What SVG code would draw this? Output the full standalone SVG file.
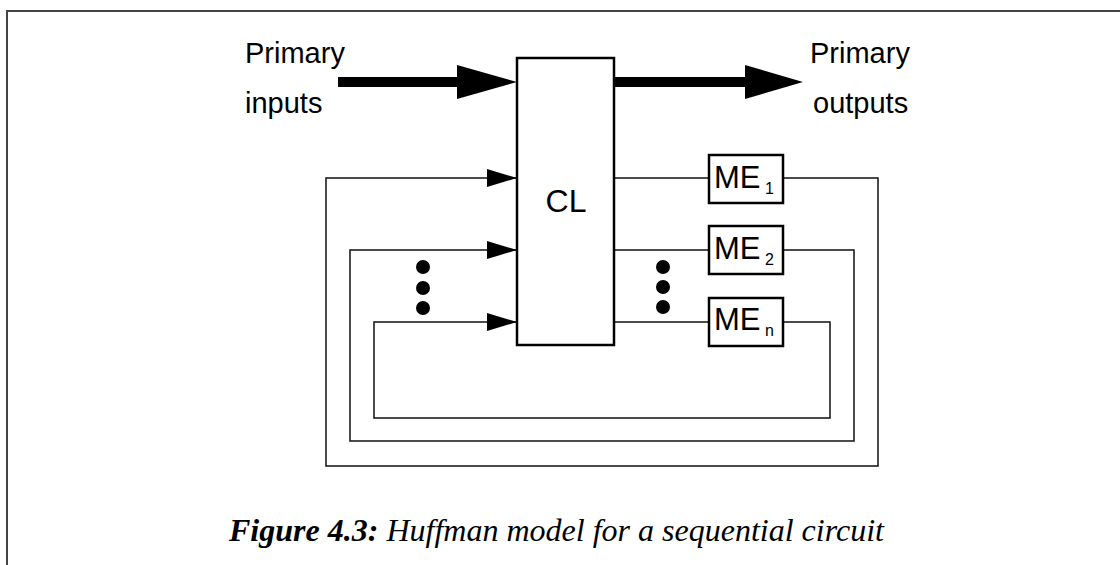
<svg xmlns="http://www.w3.org/2000/svg" width="1120" height="565" viewBox="0 0 1120 565">
<style>
.lbl{font-family:"Liberation Sans",Arial,sans-serif;fill:#000}
.big{font-size:29px}
.box{fill:#fff;stroke:#000;stroke-width:2.5}
.wire{fill:none;stroke:#111;stroke-width:1.5}
.thick{stroke:#000;stroke-width:10}
.cap{font-family:"Liberation Serif","Times New Roman",serif;font-style:italic;font-size:32px;fill:#000}
</style>
<defs>
<marker id="ah" markerUnits="userSpaceOnUse" markerWidth="30" markerHeight="18" refX="30" refY="9" orient="auto">
<path d="M0,0 L30,9 L0,18 Z" fill="#000"/>
</marker>
</defs>
<rect width="1120" height="565" fill="#fff"/>
<path d="M7,565 V11 H1120" fill="none" stroke="#444" stroke-width="2"/>

<g id="connectors">
<line class="thick" x1="338" y1="82" x2="460" y2="82"/>
<polygon points="457,65 517,82 457,99" fill="#000"/>
<line class="thick" x1="614" y1="82" x2="748" y2="82"/>
<polygon points="745,65 803,82 745,99" fill="#000"/>
<line class="wire" x1="614" y1="178" x2="709" y2="178"/>
<line class="wire" x1="614" y1="250" x2="709" y2="250"/>
<line class="wire" x1="614" y1="322" x2="709" y2="322"/>
<path class="wire" d="M783,178 H878 V466 H326 V178 H517" marker-end="url(#ah)"/>
<path class="wire" d="M783,250 H854 V441 H350 V250 H517" marker-end="url(#ah)"/>
<path class="wire" d="M783,322 H830 V418 H374 V322 H517" marker-end="url(#ah)"/>
</g>

<g id="dots-left">
<circle cx="423" cy="267" r="7"/>
<circle cx="423" cy="288" r="7"/>
<circle cx="423" cy="308" r="7"/>
</g>
<g id="dots-right">
<circle cx="663" cy="267" r="7"/>
<circle cx="663" cy="287" r="7"/>
<circle cx="663" cy="307" r="7"/>
</g>

<g id="primary-inputs">
<text class="lbl big" x="245" y="63">Primary</text>
<text class="lbl big" x="245" y="113">inputs</text>
</g>
<g id="primary-outputs">
<text class="lbl big" x="810" y="63">Primary</text>
<text class="lbl big" x="813" y="113">outputs</text>
</g>

<g id="CL">
<rect class="box" x="517" y="58" width="97" height="287"/>
<text class="lbl" x="566" y="212" font-size="32" text-anchor="middle">CL</text>
</g>
<g id="ME1">
<rect class="box" x="709" y="155" width="74" height="48"/>
<text class="lbl" x="714" y="188" font-size="31">ME<tspan font-size="16" x="765" y="194">1</tspan></text>
</g>
<g id="ME2">
<rect class="box" x="709" y="226" width="74" height="48"/>
<text class="lbl" x="714" y="259" font-size="31">ME<tspan font-size="16" x="765" y="265">2</tspan></text>
</g>
<g id="MEn">
<rect class="box" x="709" y="298" width="74" height="48"/>
<text class="lbl" x="714" y="330" font-size="31">ME<tspan font-size="16" x="765" y="336">n</tspan></text>
</g>

<g id="caption">
<text class="cap" x="229" y="541" textLength="655" lengthAdjust="spacingAndGlyphs"><tspan font-weight="bold">Figure 4.3:</tspan> Huffman model for a sequential circuit</text>
</g>
</svg>
